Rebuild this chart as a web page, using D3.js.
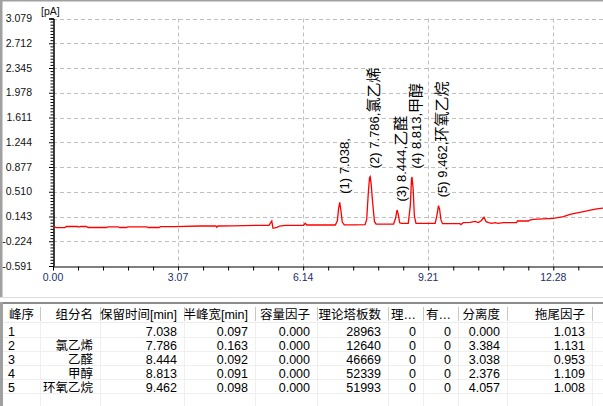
<!DOCTYPE html>
<html><head><meta charset="utf-8">
<script src="https://cdn.jsdelivr.net/npm/d3@7/dist/d3.min.js"></script>
<style>
html,body{margin:0;padding:0;background:#fff;overflow:hidden;}
svg{display:block;}
</style></head>
<body>
<svg id="c" width="603" height="406"></svg>
<script>
// ---------- data ----------
const yTickValues = [-0.591, -0.224, 0.143, 0.510, 0.877, 1.244, 1.611, 1.978, 2.345, 2.712, 3.079];
const yTickLabels = ["-0.591","-0.224","0.143","0.510","0.877","1.244","1.611","1.978","2.345","2.712","3.079"];
const xTickValues = [0, 3.07, 6.14, 9.21, 12.28];
const xTickLabels = ["0.00","3.07","6.14","9.21","12.28"];
const unitLabel = "[pA]";

// chromatogram trace [time(min), signal(pA)]
const traceTime = [0.00,0.09,0.29,0.33,0.60,0.63,0.68,0.82,0.86,1.31,1.35,1.60,1.64,1.80,1.84,2.30,2.34,2.60,2.64,3.00,3.61,4.00,4.02,4.05,4.40,5.00,5.30,5.37,5.40,5.50,5.56,5.70,6.15,6.19,6.23,6.50,6.93,6.98,7.01,7.038,7.07,7.10,7.15,7.40,7.66,7.70,7.74,7.77,7.786,7.81,7.85,7.89,7.93,8.10,8.36,8.41,8.444,8.47,8.51,8.55,8.65,8.72,8.77,8.80,8.813,8.84,8.87,8.91,9.10,9.38,9.42,9.462,9.49,9.52,9.56,9.99,10.01,10.07,10.24,10.36,10.44,10.51,10.58,10.63,10.69,10.77,10.85,10.93,11.05,11.38,11.40,11.67,11.70,11.79,12.28,12.53,12.69,13.02,13.22,13.35,13.50];
const traceValue = [-0.008,-0.022,-0.022,-0.005,-0.005,-0.015,-0.005,-0.005,-0.020,-0.020,-0.012,-0.012,-0.020,-0.020,-0.012,-0.012,-0.020,-0.020,-0.008,-0.006,0.002,0.002,-0.017,0.002,0.004,0.012,0.012,0.076,-0.032,-0.017,0.002,0.012,0.012,0.042,0.017,0.017,0.017,0.080,0.260,0.354,0.220,0.060,0.020,0.020,0.022,0.100,0.500,0.720,0.733,0.620,0.320,0.070,0.030,0.030,0.032,0.120,0.239,0.190,0.050,0.040,0.042,0.042,0.300,0.700,0.728,0.550,0.150,0.042,0.040,0.040,0.150,0.303,0.250,0.100,0.037,0.037,0.022,0.052,0.057,0.071,0.052,0.081,0.131,0.066,0.052,0.042,0.052,0.042,0.052,0.052,0.076,0.076,0.091,0.101,0.116,0.141,0.175,0.215,0.240,0.256,0.266];

const peakHeights = [0.354, 0.733, 0.239, 0.728, 0.303];
const peakLabelNums = ["(1) 7.038,", "(2) 7.786,", "(3) 8.444,", "(4) 8.813,", "(5) 9.462,"];
const peakLabelNames = ["", "氯乙烯", "乙醛", "甲醇", "环氧乙烷"];

// table
const headers = ["峰序","组分名","保留时间[min]","半峰宽[min]","容量因子","理论塔板数","理…","有…","分离度","拖尾因子",""];
const peakNo = ["1","2","3","4","5"];
const compNames = ["","氯乙烯","乙醛","甲醇","环氧乙烷"];
const retention = [7.038, 7.786, 8.444, 8.813, 9.462];
const halfWidth = [0.097, 0.163, 0.092, 0.091, 0.098];
const capacity = [0.000, 0.000, 0.000, 0.000, 0.000];
const plates = [28963, 12640, 46669, 52339, 51993];
const colLi = [0, 0, 0, 0, 0];
const colYou = [0, 0, 0, 0, 0];
const resolution = [0.000, 3.384, 3.038, 2.376, 4.057];
const tailing = [1.013, 1.131, 0.953, 1.109, 1.008];

// ---------- layout ----------
const svg = d3.select("#c");
const W = 603;
const plot = {left: 53, right: 603, top: 18.5, bottom: 266};
const x = d3.scaleLinear().domain([0, 13.5]).range([plot.left, plot.right]);
const y = d3.scaleLinear().domain([-0.591, 3.079]).range([plot.bottom, plot.top]);
const fontLat = "'Liberation Sans', Arial, 'Noto Sans CJK SC', sans-serif";

// chart panel frame
svg.append("rect").attr("x",0).attr("y",0).attr("width",W).attr("height",1.5).attr("fill","#a0a0a0");
svg.append("rect").attr("x",0).attr("y",0).attr("width",2.5).attr("height",297).attr("fill","#a0a0a0");
svg.append("line").attr("x1",0).attr("x2",W).attr("y1",297.5).attr("y2",297.5).attr("stroke","#dcdcdc");

// grid
const gridG = svg.append("g");
gridG.selectAll("line.h").data(yTickValues.slice(1)).join("line")
  .attr("x1", plot.left).attr("x2", plot.right)
  .attr("y1", d => Math.round(y(d))+0.5).attr("y2", d => Math.round(y(d))+0.5)
  .attr("stroke","#c0c0c0").attr("stroke-dasharray","4,3");
gridG.selectAll("line.v").data(xTickValues.slice(1)).join("line")
  .attr("y1", plot.top).attr("y2", plot.bottom)
  .attr("x1", d => Math.round(x(d))+0.5).attr("x2", d => Math.round(x(d))+0.5)
  .attr("stroke","#c0c0c0").attr("stroke-dasharray","4,3");

// y axis with minor ticks
const yMinor = [];
for (let i = 0; i < yTickValues.length - 1; i++) {
  const a = yTickValues[i], b = yTickValues[i+1];
  for (let k = 1; k < 8; k++) yMinor.push(a + (b - a) * k / 8);
}
const yAxisG = svg.append("g").attr("transform", `translate(${plot.left+0.5},0)`);
yAxisG.call(d3.axisLeft(y).tickValues(yMinor).tickSize(3).tickFormat(""));
yAxisG.append("g").call(d3.axisLeft(y).tickValues(yTickValues).tickSize(4.5).tickFormat(""));
yAxisG.selectAll("path.domain").attr("stroke","#000");
yAxisG.selectAll("line").attr("stroke","#000");
svg.append("g").selectAll("text").data(yTickValues).join("text")
  .attr("x", 32).attr("y", d => y(d)).attr("dy","0.35em")
  .attr("text-anchor","end").attr("font-family",fontLat).attr("font-size","10.5px").attr("fill","#111")
  .text((d,i) => yTickLabels[i]);
svg.append("text").attr("x", 41).attr("y", 15).attr("font-family",fontLat).attr("font-size","10.5px").attr("fill","#111").text(unitLabel);

// x axis with minor ticks
const xMinor = [];
for (let v = 0; v <= 13.5 + 1e-9; v += 0.614) xMinor.push(v);
const xAxisG = svg.append("g").attr("transform", `translate(0,${plot.bottom+0.5})`);
xAxisG.call(d3.axisBottom(x).tickValues(xMinor).tickSize(4).tickFormat("").tickSizeOuter(0));
xAxisG.selectAll("path.domain").attr("stroke","#000");
xAxisG.selectAll("line").attr("stroke","#000");
svg.append("g").selectAll("text").data(xTickValues).join("text")
  .attr("x", d => x(d)).attr("y", 281)
  .attr("text-anchor","middle").attr("font-family",fontLat).attr("font-size","10.5px").attr("fill","#1c2e6a")
  .text((d,i) => xTickLabels[i]);

// trace
const traceData = traceTime.map((t,i) => [t, traceValue[i]]);
svg.append("path").datum(traceData)
  .attr("d", d3.line().x(d => x(d[0])).y(d => y(d[1])))
  .attr("fill","none").attr("stroke","#ff0000").attr("stroke-width",1.3);

// peak labels
const lbl = svg.append("g").selectAll("text").data(peakLabelNums).join("text")
  .attr("transform", (d,i) => `translate(${x(retention[i])+9},${y(peakHeights[i])-8.5}) rotate(-90)`)
  .attr("font-family", fontLat).attr("font-size","13px").attr("fill","#000");
lbl.append("tspan").text(d => d);
lbl.append("tspan").attr("font-size","15px").attr("font-family","'Noto Sans CJK SC', sans-serif")
  .text((d,i) => peakLabelNames[i]);

// ---------- table ----------
const cols = [0, 40, 100, 184, 255, 317, 388, 423, 458, 507, 592, 603];
const tTop = 302;
svg.append("rect").attr("x",0).attr("y",tTop).attr("width",W).attr("height",2).attr("fill","#8c8c8c");
svg.append("rect").attr("x",0).attr("y",tTop).attr("width",3).attr("height",406-tTop).attr("fill","#a0a0a0");
const headY = 318.5;
const tg = svg.append("g").attr("font-family", fontLat).attr("font-size","12.5px").attr("fill","#000");
tg.selectAll("line.hs").data(cols.slice(1,-1)).join("line")
  .attr("x1", d => d+0.5).attr("x2", d => d+0.5).attr("y1", 307).attr("y2", 321)
  .attr("stroke","#c8c8c8");
tg.append("line").attr("x1",3).attr("x2",W).attr("y1",322.5).attr("y2",322.5).attr("stroke","#ececec");
headers.forEach((h,i) => {
  if (!h) return;
  const left = i === 0;
  tg.append("text").attr("x", left ? cols[i]+9 : cols[i+1]-7).attr("y", headY)
    .attr("text-anchor", left ? "start" : "end").text(h);
});
const rowH = 14, bodyTop = 324;
const nRows = 6;
for (let r = 1; r <= nRows; r++) {
  tg.append("line").attr("x1",3).attr("x2",W).attr("y1", bodyTop + r*rowH - 0.5).attr("y2", bodyTop + r*rowH - 0.5).attr("stroke","#efefef");
}
cols.slice(1,-1).forEach(c => {
  tg.append("line").attr("x1",c+0.5).attr("x2",c+0.5).attr("y1",323).attr("y2",406).attr("stroke","#efefef");
});
const columns = [
  peakNo, compNames,
  retention.map(d => d.toFixed(3)), halfWidth.map(d => d.toFixed(3)),
  capacity.map(d => d.toFixed(3)), plates.map(String), colLi.map(String), colYou.map(String),
  resolution.map(d => d.toFixed(3)), tailing.map(d => d.toFixed(3))
];
columns.forEach((colData, ci) => {
  colData.forEach((v, r) => {
    const left = ci === 0;
    tg.append("text").attr("x", left ? cols[ci]+8 : cols[ci+1]-7)
      .attr("y", bodyTop + r*rowH + 11.5)
      .attr("text-anchor", left ? "start" : "end").text(v);
  });
});
</script>
</body></html>
